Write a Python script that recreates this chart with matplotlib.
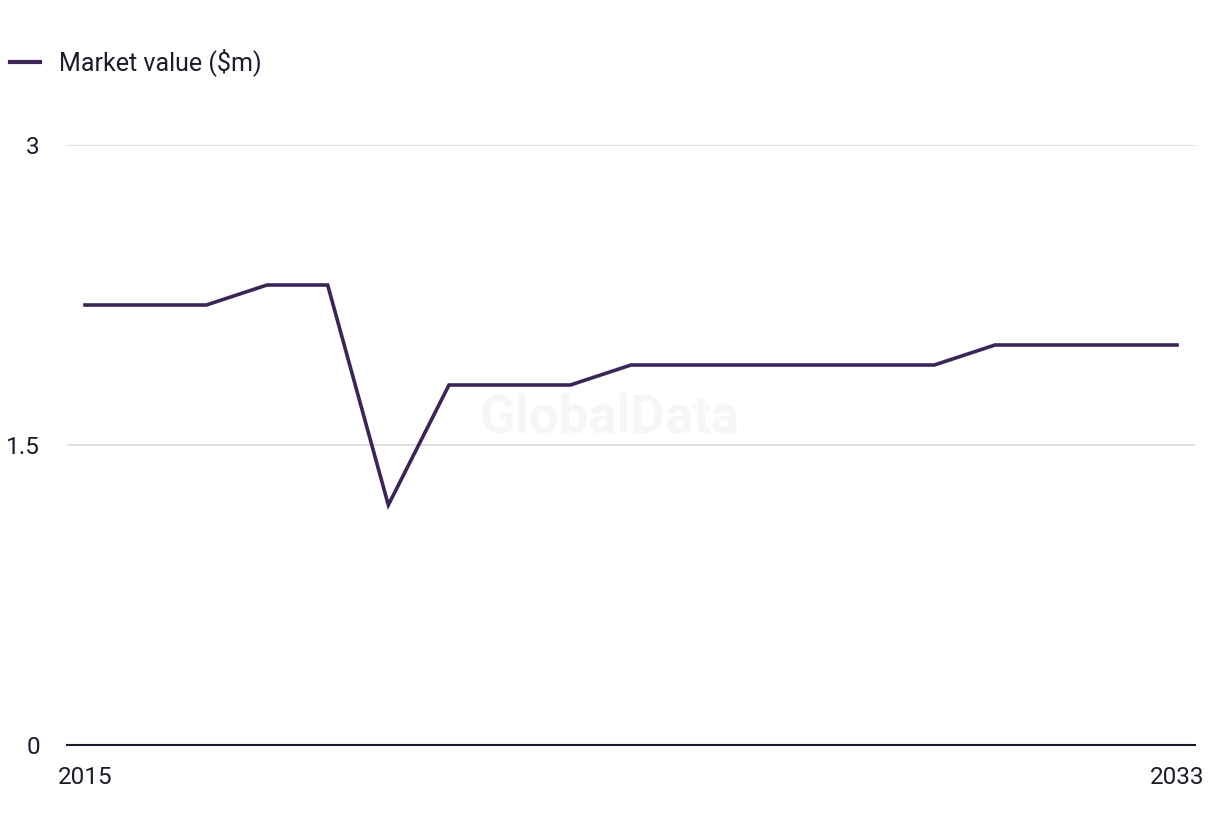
import matplotlib.pyplot as plt
from matplotlib.lines import Line2D

plt.rcParams['font.family'] = ['Roboto', 'DejaVu Sans']

# Data
years = list(range(2015, 2034))
market_value = [2.2, 2.2, 2.2, 2.3, 2.3, 1.2, 1.8, 1.8, 1.8, 1.9,
                1.9, 1.9, 1.9, 1.9, 1.9, 2.0, 2.0, 2.0, 2.0]
y_ticks = [0, 1.5, 3]
y_tick_labels = ['0', '1.5', '3']
x_ticks = [2015, 2033]

line_color = '#3b2557'
text_color = '#1c1c2e'

fig = plt.figure(figsize=(12.2, 8.36), dpi=100)
ax = fig.add_axes([67 / 1220, 1 - 745 / 836, (1195 - 67) / 1220, (745 - 145) / 836])

ax.plot(years, market_value, color=line_color, linewidth=2.6, solid_joinstyle='miter')

ax.set_xlim(2015 - 18 / 60.67, 2033 + 18 / 60.67)
ax.set_ylim(0, 3)
ax.set_yticks(y_ticks)
ax.set_yticklabels(y_tick_labels)
ax.set_xticks(x_ticks)
ax.set_xticklabels([str(x) for x in x_ticks])

ax.grid(axis='y', color='#d9d9d9', linewidth=1.2)
ax.set_axisbelow(True)
for side in ['top', 'right', 'left']:
    ax.spines[side].set_visible(False)
ax.spines['bottom'].set_color(text_color)
ax.spines['bottom'].set_linewidth(1.5)
ax.spines['bottom'].set_zorder(3)

ax.tick_params(axis='both', length=0, labelsize=17.5, colors=text_color)
ax.tick_params(axis='y', pad=19.5)
ax.tick_params(axis='x', pad=15)

# Watermark
ax.text(0.481, 0.545, 'GlobalData', transform=ax.transAxes, fontsize=38,
        fontweight='bold', color='#f6f6f7', ha='center', va='center', zorder=0)

# Legend
fig.lines.append(Line2D([10 / 1220, 40 / 1220], [1 - 62 / 836, 1 - 62 / 836],
                        color=line_color, linewidth=3, transform=fig.transFigure))
fig.text(59 / 1220, 1 - 62 / 836, 'Market value ($m)', fontsize=18,
         color=text_color, va='center', ha='left')

fig.savefig('out.png', dpi=100)
